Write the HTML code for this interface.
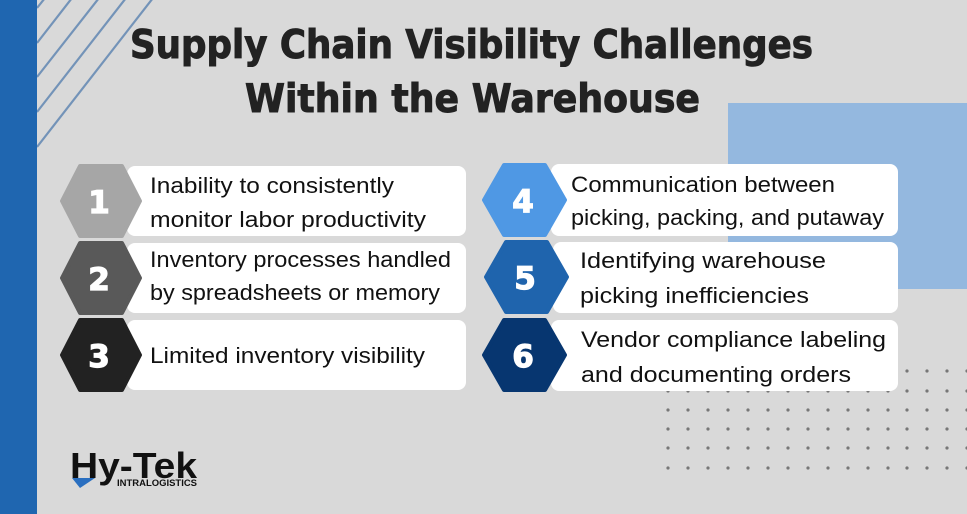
<!DOCTYPE html>
<html><head><meta charset="utf-8"><style>
html,body{margin:0;padding:0;background:#d9d9d9;}
svg{display:block;}
</style></head><body>
<svg width="967" height="514" viewBox="0 0 967 514" xmlns="http://www.w3.org/2000/svg" font-family="Liberation Sans, sans-serif">
<rect width="967" height="514" fill="#d9d9d9"/>
<rect x="728" y="103" width="239" height="186" fill="#94b8df"/>
<g fill="#777">
<circle cx="907" cy="371" r="1.6"/><circle cx="927" cy="371" r="1.6"/><circle cx="947" cy="371" r="1.6"/><circle cx="967" cy="371" r="1.6"/>
<circle cx="668" cy="391" r="1.6"/><circle cx="688" cy="391" r="1.6"/><circle cx="708" cy="391" r="1.6"/><circle cx="728" cy="391" r="1.6"/><circle cx="748" cy="391" r="1.6"/><circle cx="768" cy="391" r="1.6"/><circle cx="788" cy="391" r="1.6"/><circle cx="808" cy="391" r="1.6"/><circle cx="828" cy="391" r="1.6"/><circle cx="848" cy="391" r="1.6"/><circle cx="868" cy="391" r="1.6"/><circle cx="888" cy="391" r="1.6"/><circle cx="907" cy="391" r="1.6"/><circle cx="927" cy="391" r="1.6"/><circle cx="947" cy="391" r="1.6"/><circle cx="967" cy="391" r="1.6"/>
<circle cx="668" cy="410" r="1.6"/><circle cx="688" cy="410" r="1.6"/><circle cx="708" cy="410" r="1.6"/><circle cx="728" cy="410" r="1.6"/><circle cx="748" cy="410" r="1.6"/><circle cx="768" cy="410" r="1.6"/><circle cx="788" cy="410" r="1.6"/><circle cx="808" cy="410" r="1.6"/><circle cx="828" cy="410" r="1.6"/><circle cx="848" cy="410" r="1.6"/><circle cx="868" cy="410" r="1.6"/><circle cx="888" cy="410" r="1.6"/><circle cx="907" cy="410" r="1.6"/><circle cx="927" cy="410" r="1.6"/><circle cx="947" cy="410" r="1.6"/><circle cx="967" cy="410" r="1.6"/>
<circle cx="668" cy="429" r="1.6"/><circle cx="688" cy="429" r="1.6"/><circle cx="708" cy="429" r="1.6"/><circle cx="728" cy="429" r="1.6"/><circle cx="748" cy="429" r="1.6"/><circle cx="768" cy="429" r="1.6"/><circle cx="788" cy="429" r="1.6"/><circle cx="808" cy="429" r="1.6"/><circle cx="828" cy="429" r="1.6"/><circle cx="848" cy="429" r="1.6"/><circle cx="868" cy="429" r="1.6"/><circle cx="888" cy="429" r="1.6"/><circle cx="907" cy="429" r="1.6"/><circle cx="927" cy="429" r="1.6"/><circle cx="947" cy="429" r="1.6"/><circle cx="967" cy="429" r="1.6"/>
<circle cx="668" cy="448" r="1.6"/><circle cx="688" cy="448" r="1.6"/><circle cx="708" cy="448" r="1.6"/><circle cx="728" cy="448" r="1.6"/><circle cx="748" cy="448" r="1.6"/><circle cx="768" cy="448" r="1.6"/><circle cx="788" cy="448" r="1.6"/><circle cx="808" cy="448" r="1.6"/><circle cx="828" cy="448" r="1.6"/><circle cx="848" cy="448" r="1.6"/><circle cx="868" cy="448" r="1.6"/><circle cx="888" cy="448" r="1.6"/><circle cx="907" cy="448" r="1.6"/><circle cx="927" cy="448" r="1.6"/><circle cx="947" cy="448" r="1.6"/><circle cx="967" cy="448" r="1.6"/>
<circle cx="668" cy="468" r="1.6"/><circle cx="688" cy="468" r="1.6"/><circle cx="708" cy="468" r="1.6"/><circle cx="728" cy="468" r="1.6"/><circle cx="748" cy="468" r="1.6"/><circle cx="768" cy="468" r="1.6"/><circle cx="788" cy="468" r="1.6"/><circle cx="808" cy="468" r="1.6"/><circle cx="828" cy="468" r="1.6"/><circle cx="848" cy="468" r="1.6"/><circle cx="868" cy="468" r="1.6"/><circle cx="888" cy="468" r="1.6"/><circle cx="907" cy="468" r="1.6"/><circle cx="927" cy="468" r="1.6"/><circle cx="947" cy="468" r="1.6"/><circle cx="967" cy="468" r="1.6"/>
</g>
<g stroke="#7393b8" stroke-width="2.2">
<line x1="45" y1="-2" x2="37" y2="8"/>
<line x1="72" y1="-2" x2="37" y2="43"/>
<line x1="99" y1="-2" x2="37" y2="77"/>
<line x1="126" y1="-2" x2="37" y2="112"/>
<line x1="153" y1="-2" x2="37" y2="147"/>
</g>
<rect x="0" y="0" width="37" height="514" fill="#1f66b0"/>
<g font-weight="bold" font-size="39" fill="#222" stroke="#222" stroke-width="1" font-family="DejaVu Sans, Liberation Sans, sans-serif">
<text x="130" y="58" textLength="683" lengthAdjust="spacingAndGlyphs">Supply Chain Visibility Challenges</text>
<text x="245" y="112" textLength="455" lengthAdjust="spacingAndGlyphs">Within the Warehouse</text>
</g>
<g fill="#fff">
<rect x="127" y="166" width="339" height="70" rx="8"/>
<rect x="127" y="243" width="339" height="70" rx="8"/>
<rect x="127" y="320" width="339" height="70" rx="8"/>
<rect x="551" y="164" width="347" height="72" rx="8"/>
<rect x="553" y="242" width="345" height="71" rx="8"/>
<rect x="551" y="320" width="347" height="71" rx="8"/>
</g>
<g stroke-linejoin="round" stroke-width="4">
<polygon points="62,201 80,166 122,166 140,201 122,236 80,236" fill="#a6a6a6" stroke="#a6a6a6"/>
<polygon points="62,278 80,243 122,243 140,278 122,313 80,313" fill="#595959" stroke="#595959"/>
<polygon points="62,355 80,320 122,320 140,355 122,390 80,390" fill="#222" stroke="#222"/>
<polygon points="484,200 504,165 545,165 565,200 545,235 504,235" fill="#4f98e4" stroke="#4f98e4"/>
<polygon points="486,277 506,242 547,242 567,277 547,312 506,312" fill="#1f64ad" stroke="#1f64ad"/>
<polygon points="484,355 504,320 545,320 565,355 545,390 504,390" fill="#073670" stroke="#073670"/>
</g>
<g fill="#fff" stroke="#fff" stroke-width="1.2" font-weight="bold" font-size="31" text-anchor="middle" font-family="DejaVu Sans, sans-serif">
<text x="99" y="213">1</text><text x="99" y="290">2</text><text x="99" y="367">3</text>
<text x="523" y="212">4</text><text x="525" y="289">5</text><text x="523" y="367">6</text>
</g>
<g fill="#111" font-size="22">
<text x="150" y="193" textLength="244" lengthAdjust="spacingAndGlyphs">Inability to consistently</text>
<text x="150" y="227" textLength="276" lengthAdjust="spacingAndGlyphs">monitor labor productivity</text>
<text x="150" y="267" textLength="301" lengthAdjust="spacingAndGlyphs">Inventory processes handled</text>
<text x="150" y="300" textLength="290" lengthAdjust="spacingAndGlyphs">by spreadsheets or memory</text>
<text x="150" y="363" textLength="275" lengthAdjust="spacingAndGlyphs">Limited inventory visibility</text>
<text x="571" y="192" textLength="264" lengthAdjust="spacingAndGlyphs">Communication between</text>
<text x="571" y="225" textLength="313" lengthAdjust="spacingAndGlyphs">picking, packing, and putaway</text>
<text x="580" y="268" textLength="246" lengthAdjust="spacingAndGlyphs">Identifying warehouse</text>
<text x="580" y="303" textLength="229" lengthAdjust="spacingAndGlyphs">picking inefficiencies</text>
<text x="581" y="347" textLength="305" lengthAdjust="spacingAndGlyphs">Vendor compliance labeling</text>
<text x="581" y="382" textLength="270" lengthAdjust="spacingAndGlyphs">and documenting orders</text>
</g>
<text x="70" y="478" font-size="36" font-weight="bold" fill="#111" textLength="127" lengthAdjust="spacingAndGlyphs">Hy-Tek</text>
<text x="117" y="486" font-size="9" font-weight="bold" fill="#111" textLength="80" lengthAdjust="spacingAndGlyphs">INTRALOGISTICS</text>
<polygon points="72,478 95,478 80,488" fill="#2a6fc0"/>
</svg>
</body></html>
